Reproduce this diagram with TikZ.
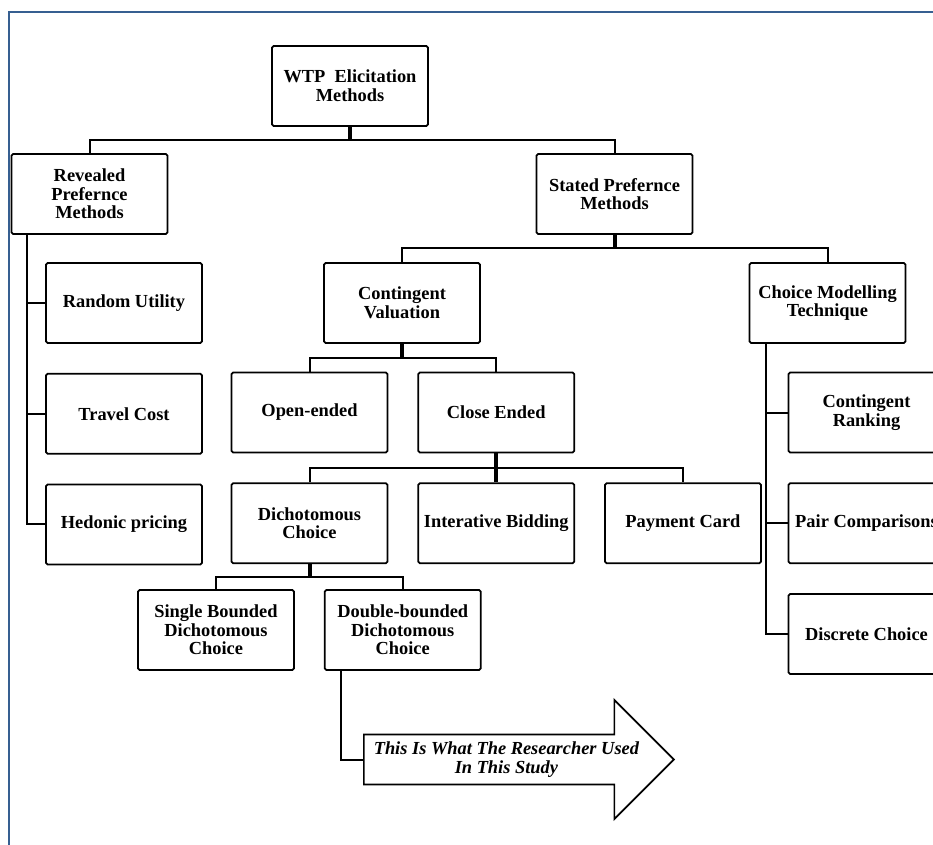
\documentclass[tikz,border=0pt]{standalone}
\usepackage{fontspec}
\setmainfont{Liberation Serif}
\usetikzlibrary{positioning, calc, shapes.arrows}
\definecolor{frameblue}{RGB}{54,95,145}

\begin{document}
\begin{tikzpicture}[x=0.75pt, y=-0.75pt, node distance=21.75pt,
  box/.style={draw, line width=1.3pt, rounded corners=1.2pt, minimum width=117pt, minimum height=60pt, align=center, inner sep=2pt, font=\fontsize{13.8}{14}\selectfont\bfseries},
  conn/.style={line width=1.5pt},
  stub/.style={line width=3pt},
  usedarrow/.style={single arrow, draw, line width=1.3pt, single arrow head extend=22.1pt, single arrow tip angle=90, minimum height=232.5pt, minimum width=89.25pt, inner sep=2pt, align=center, font=\fontsize{13.8}{14}\selectfont\bfseries\itshape}]

  \useasboundingbox (0,0) rectangle (933,845);
  \draw[frameblue, line width=2pt] (9,12) rectangle (960,880);

  % top levels
  \node[box] (wtp)      at (350,86)    {WTP\ \ Elicitation\\Methods};
  \node[box] (revealed) at (89.5,194)  {Revealed\\Prefernce\\Methods};
  \node[box] (stated)   at (614.5,194) {Stated Prefernce\\Methods};

  % revealed preference
  \node[box] (random)  at (124,303)       {Random Utility};
  \node[box] (travel)  [below=of random]  {Travel Cost};
  \node[box] (hedonic) [below=of travel]  {Hedonic pricing};

  % stated preference
  \node[box] (cv)    at (402,303)     {Contingent\\Valuation};
  \node[box] (cm)    at (827.5,303)   {Choice Modelling\\Technique};
  \node[box] (open)  at (309.5,412.5) {Open-ended};
  \node[box] (close) [right=of open]  {Close Ended};
  \node[box] (dich)  [below=of open]  {Dichotomous\\Choice};
  \node[box] (inter) [right=of dich]  {Interative Bidding};
  \node[box] (pay)   [right=of inter] {Payment Card};
  \node[box] (single) at (216,630)      {Single Bounded\\Dichotomous\\Choice};
  \node[box] (double) [right=of single] {Double-bounded\\Dichotomous\\Choice};

  % choice modelling
  \node[box] (rank)     at (866.5,412.5)  {Contingent\\Ranking};
  \node[box] (pair)     [below=of rank]   {Pair Comparisons};
  \node[box] (discrete) [below=of pair]   {Discrete Choice};

  \node[usedarrow, anchor=tail] (used) at (363,759.5) {This Is What The Researcher Used\\In This Study};

  % tree buses
  \coordinate (b0) at ($(wtp.south)!.5!(wtp.south |- revealed.north)$);
  \draw[stub] (wtp.south) -- (b0);
  \draw[conn] (revealed.north) |- (b0) -| (stated.north);

  \coordinate (b1) at ($(stated.south)!.5!(stated.south |- cv.north)$);
  \draw[stub] (stated.south) -- (b1);
  \draw[conn] (cv.north) |- (b1) -| (cm.north);

  \coordinate (b2) at ($(cv.south)!.5!(cv.south |- open.north)$);
  \draw[stub] (cv.south) -- (b2);
  \draw[conn] (open.north) |- (b2) -| (close.north);

  \coordinate (b3) at ($(close.south)!.5!(close.south |- dich.north)$);
  \draw[stub] (close.south) -- (inter.north);
  \draw[conn] (dich.north) |- (b3) -| (pay.north);

  \coordinate (b4) at ($(dich.south)!.5!(dich.south |- single.north)$);
  \draw[stub] (dich.south) -- (b4);
  \draw[conn] (single.north) |- (b4) -| (double.north);

  % side spines
  \coordinate (rs) at ([xshift=12pt]revealed.south west);
  \draw[conn] (rs) |- (hedonic.west);
  \draw[conn] (random.west) -- (random.west -| rs);
  \draw[conn] (travel.west) -- (travel.west -| rs);

  \coordinate (cs) at ([xshift=12.75pt]cm.south west);
  \draw[conn] (cs) |- (discrete.west);
  \draw[conn] (rank.west) -- (rank.west -| cs);
  \draw[conn] (pair.west) -- (pair.west -| cs);

  \coordinate (ds) at ([xshift=12.75pt]double.south west);
  \draw[conn] (ds) |- (used.tail);
\end{tikzpicture}
\end{document}
